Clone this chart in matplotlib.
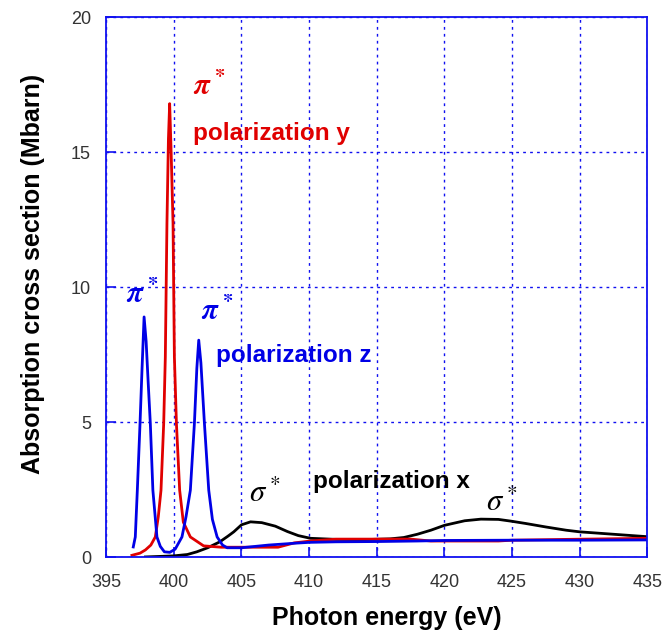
import numpy as np
import matplotlib.pyplot as plt

plt.rcParams['font.family'] = ['Liberation Sans', 'DejaVu Sans']
plt.rcParams['mathtext.fontset'] = 'custom'
plt.rcParams['mathtext.it'] = 'STIXGeneral:italic:bold'
plt.rcParams['mathtext.rm'] = 'STIXGeneral:bold'

# Polarization z (blue)
z_energy = [397.0, 397.15, 397.3, 397.5, 397.65, 397.8, 397.95, 398.1, 398.26, 398.45,
            398.75, 399.0, 399.3, 399.7, 400.1, 400.6, 400.9, 401.22, 401.52, 401.7,
            401.84, 402.0, 402.26, 402.58, 402.85, 403.2, 403.6, 403.94, 405.0, 407.0,
            409.0, 410.0, 412.0, 415.0, 418.0, 420.0, 425.0, 430.0, 435.0]
z_sigma = [0.38, 0.75, 2.48, 4.96, 7.0, 8.9, 8.0, 6.5, 4.96, 2.48,
           0.75, 0.4, 0.2, 0.18, 0.3, 0.75, 1.5, 2.48, 4.96, 7.0,
           8.04, 7.2, 4.96, 2.48, 1.4, 0.75, 0.45, 0.35, 0.35, 0.45,
           0.52, 0.55, 0.57, 0.58, 0.6, 0.62, 0.63, 0.63, 0.64]

# Polarization y (red)
y_energy = [396.9, 397.5, 397.9, 398.3, 398.63, 398.85, 399.05, 399.25, 399.37, 399.49,
            399.6, 399.69, 399.8, 399.94, 400.04, 400.19, 400.43, 400.7, 401.22, 402.2,
            403.5, 405.0, 407.7, 408.9, 410.1, 412.0, 417.5, 419.0, 424.0, 425.0,
            429.0, 435.0]
y_sigma = [0.07, 0.15, 0.27, 0.45, 0.75, 1.5, 2.48, 4.96, 7.42, 12.36,
           15.5, 16.8, 15.0, 12.36, 7.42, 4.96, 2.48, 1.3, 0.75, 0.42,
           0.37, 0.37, 0.37, 0.53, 0.6, 0.67, 0.67, 0.6, 0.6, 0.63,
           0.66, 0.7]

# Polarization x (black)
x_energy = [397.9, 399.0, 400.0, 401.0, 401.7, 402.5, 403.4, 404.0, 404.43, 405.0,
            405.67, 406.5, 407.5, 408.4, 409.2, 410.1, 412.0, 414.0, 416.0, 417.0,
            418.0, 419.0, 420.0, 421.5, 422.7, 424.0, 425.0, 426.0, 427.5, 429.0,
            430.0, 432.5, 435.0]
x_sigma = [0.01, 0.03, 0.05, 0.1, 0.2, 0.35, 0.57, 0.78, 0.94, 1.2,
           1.31, 1.28, 1.15, 0.95, 0.8, 0.7, 0.66, 0.65, 0.68, 0.73,
           0.85, 1.0, 1.18, 1.35, 1.41, 1.4, 1.33, 1.25, 1.12, 1.0,
           0.94, 0.85, 0.76]

grid_blue = '#1010f0'
red = '#e00000'
blue = '#0000e6'

fig = plt.figure(figsize=(6.68, 6.39), dpi=100)
ax = fig.add_axes([0.159, 0.128, 0.81, 0.845])

ax.plot(x_energy, x_sigma, color='black', lw=2)
ax.plot(y_energy, y_sigma, color=red, lw=2)
ax.plot(z_energy, z_sigma, color=blue, lw=2)

ax.set_xlim(395, 435)
ax.set_ylim(0, 20)
ax.set_xticks(np.arange(395, 436, 5))
ax.set_yticks(np.arange(0, 21, 5))
ax.grid(True, color=grid_blue, linestyle=(0, (2, 3)), lw=1)
for s in ax.spines.values():
    s.set_color(grid_blue)
    s.set_linewidth(1.3)
ax.tick_params(direction='in', length=7, width=1.2, color=grid_blue,
               labelsize=13, labelcolor='#333333')
ax.tick_params(axis='x', pad=12)
ax.tick_params(axis='y', pad=11)

ax.set_xlabel('Photon energy (eV)', fontsize=18, fontweight='bold')
ax.set_ylabel('Absorption cross section (Mbarn)', fontsize=18, fontweight='bold')
ax.xaxis.set_label_coords(0.519, -0.09)
ax.yaxis.set_label_coords(-0.113, 0.525)

# Annotations
ax.text(401.4, 16.9, r'$\pi^*$', color=red, fontsize=21, ha='left', va='bottom')
ax.text(401.4, 15.7, 'polarization y', color=red, fontsize=17.5,
        fontweight='bold', ha='left', va='center')
ax.text(396.45, 9.18, r'$\pi^*$', color=blue, fontsize=21, ha='left', va='bottom')
ax.text(402.0, 8.56, r'$\pi^*$', color=blue, fontsize=21, ha='left', va='bottom')
ax.text(403.15, 7.48, 'polarization z', color=blue, fontsize=17.5,
        fontweight='bold', ha='left', va='center')
ax.text(405.55, 1.78, r'$\sigma^*$', color='black', fontsize=22, ha='left', va='bottom',
        math_fontfamily='stix')
ax.text(410.26, 2.81, 'polarization x', color='black', fontsize=17.5,
        fontweight='bold', ha='left', va='center')
ax.text(423.1, 1.45, r'$\sigma^*$', color='black', fontsize=22, ha='left', va='bottom',
        math_fontfamily='stix')

fig.savefig('out.png', dpi=100)
